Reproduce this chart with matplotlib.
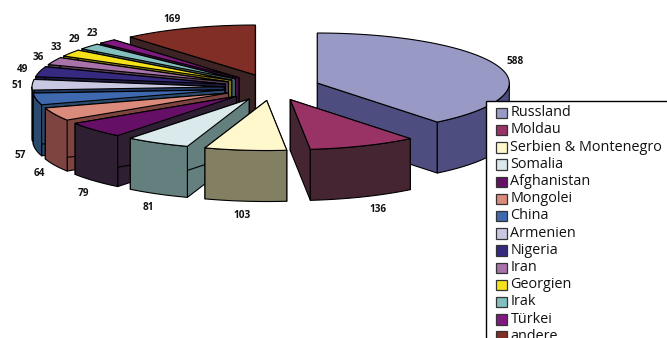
import numpy as np
import matplotlib
matplotlib.use("Agg")
import matplotlib.pyplot as plt
from matplotlib.patches import Polygon, Rectangle

countries = ["Russland", "Moldau", "Serbien & Montenegro", "Somalia", "Afghanistan",
             "Mongolei", "China", "Armenien", "Nigeria", "Iran", "Georgien", "Irak",
             "Türkei", "andere"]
values = [588, 136, 103, 81, 79, 64, 57, 51, 49, 36, 33, 29, 23, 169]
top_colors = ["#9999C6", "#993366", "#FFF8CC", "#D9E9EC", "#660F66", "#DB8B7B", "#3F69AE",
              "#C8C8E2", "#362A80", "#A873A8", "#F5E21B", "#84BFBF", "#801A80", "#802E26"]
side_colors = ["#4D4D80", "#442531", "#827F63", "#637F7E", "#2E1F33", "#7E4540", "#2A4A6E",
               "#22375F", "#1F1A40", "#5A3F5A", "#7F7510", "#456060", "#401040", "#3B2423"]
label_xy = [(515, 62), (378, 209), (242, 215), (148, 207), (83, 194), (39, 173), (20, 156),
            (17, 86), (23, 70), (38, 58), (56, 47), (74, 39), (92, 33), (172, 19)]

# Geometry of the tilted pie, in pixels
CX, CY = 272.0, 87.4
RX, RY = 192.0, 50.0
DEPTH = 51.0
EXPLODE = 0.25

fig = plt.figure(figsize=(6.67, 3.38), dpi=100)
ax = fig.add_axes([0, 0, 1, 1])
ax.set_xlim(0, 667)
ax.set_ylim(338, 0)
ax.axis("off")


def rim(ax_, ay_, a0, a1):
    t = np.linspace(a0, a1, max(int((a1 - a0) * 2), 2))
    return np.column_stack([ax_ + RX * np.sin(t * np.pi / 180),
                            ay_ - RY * np.cos(t * np.pi / 180)])


cum = np.concatenate([[0], np.cumsum(values)]) * 360.0 / sum(values)
slices = []
for i in range(len(values)):
    a0, a1 = cum[i], cum[i + 1]
    mid = np.radians((a0 + a1) / 2)
    px = CX + EXPLODE * RX * np.sin(mid)
    py = CY - EXPLODE * 1.056 * RY * np.cos(mid)
    slices.append((-np.cos(mid), i, a0, a1, px, py))

# Paint from the back of the pie to the front
for _, i, a0, a1, px, py in sorted(slices):
    edge = rim(px, py, a0, a1)
    kw = dict(edgecolor="black", linewidth=0.8, joinstyle="round")
    for corner in (edge[0], edge[-1]):
        quad = [(px, py), corner, (corner[0], corner[1] + DEPTH), (px, py + DEPTH)]
        ax.add_patch(Polygon(quad, closed=True, facecolor=side_colors[i], **kw))
    lo, hi = max(a0, 90), min(a1, 270)
    if hi > lo:
        front = rim(px, py, lo, hi)
        wall = np.vstack([front, (front + [0, DEPTH])[::-1]])
        ax.add_patch(Polygon(wall, closed=True, facecolor=side_colors[i], **kw))
    ax.add_patch(Polygon(np.vstack([[px, py], edge]), closed=True,
                         facecolor=top_colors[i], **kw))

for v, (x, y) in zip(values, label_xy):
    ax.text(x, y, str(v), ha="center", va="center", fontsize=7.2,
            fontweight="bold", family="Open Sans", color="#111111")

# Legend box runs past the right and bottom edges of the figure
LEG_X, LEG_Y = 486, 101
ROW0, ROW_H = 112.7, 17.2
ax.add_patch(Rectangle((LEG_X, LEG_Y), 400, 400, facecolor="white", edgecolor="black",
                       linewidth=1.0, zorder=5))
for i, name in enumerate(countries):
    y = ROW0 + i * ROW_H
    ax.add_patch(Rectangle((496, y - 5), 10.5, 10.5, facecolor=top_colors[i],
                           edgecolor="#333333", linewidth=0.9, zorder=6))
    ax.text(510.5, y, name, ha="left", va="center", fontsize=10.4, family="Open Sans",
            color="#111111", zorder=6)

fig.savefig("out.png", dpi=100)
